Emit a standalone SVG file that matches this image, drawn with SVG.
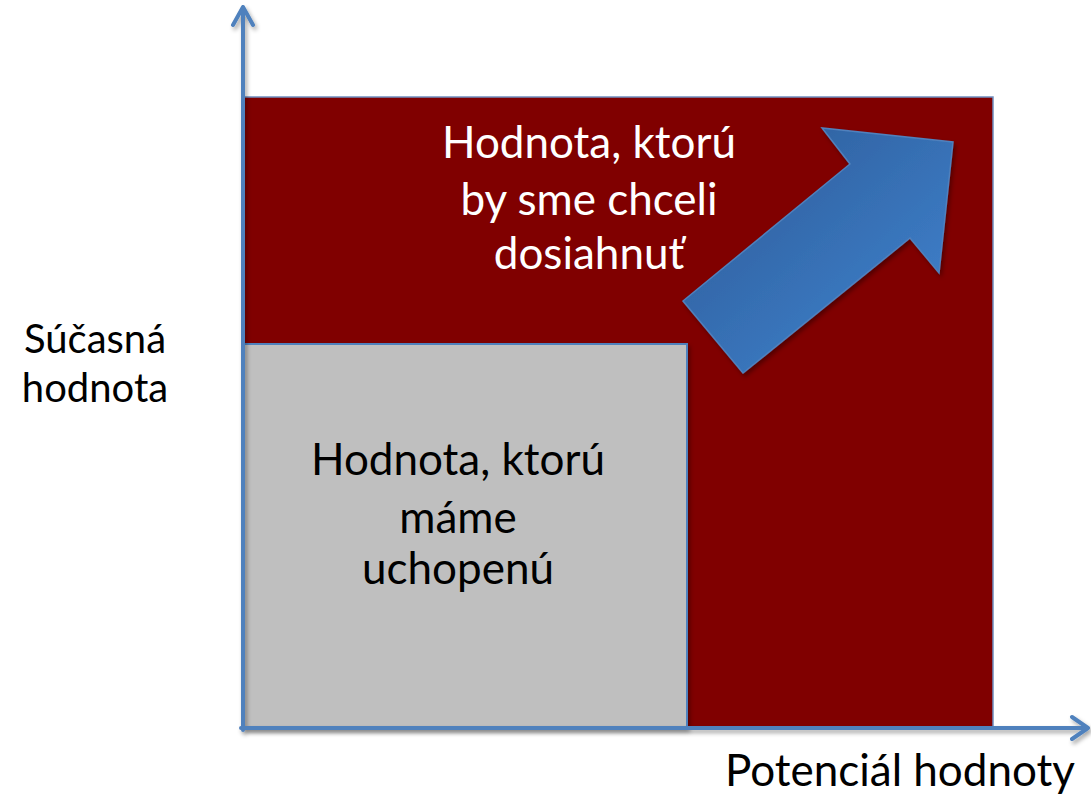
<svg xmlns="http://www.w3.org/2000/svg" width="1091" height="810" viewBox="0 0 1091 810">
<style>
.t{font-family:Lato,"Open Sans","Liberation Sans",sans-serif;font-size:44px;text-anchor:middle}
.s{font-size:40px}
.dark{fill:#000}
.light{fill:#fff}
.axis{stroke:#4F81BD;stroke-width:4;fill:none;stroke-linecap:round;stroke-linejoin:round}
</style>
<defs>
<filter id="sh" x="-10%" y="-10%" width="120%" height="120%">
<feDropShadow dx="2" dy="3" stdDeviation="2" flood-color="#000" flood-opacity="0.35"/>
</filter>
<linearGradient id="ag" x1="0" y1="0" x2="1" y2="1">
<stop offset="0" stop-color="#2C5A96"/>
<stop offset="1" stop-color="#4185D2"/>
</linearGradient>
</defs>
<rect width="1091" height="810" fill="#fff"/>
<g id="potential">
<rect x="244" y="97" width="749" height="631" fill="#800000" stroke="#6F8FC0" stroke-width="1.5"/>
<text class="t light" x="589" y="158">Hodnota, ktorú</text>
<text class="t light" x="589" y="215">by sme chceli</text>
<text class="t light" x="589" y="269">dosiahnuť</text>
</g>
<g id="current">
<rect x="244" y="344" width="443" height="384" fill="#BFBFBF" stroke="#4F81BD" stroke-width="2" filter="url(#sh)"/>
<text class="t dark" x="458" y="475">Hodnota, ktorú</text>
<text class="t dark" x="458" y="533">máme</text>
<text class="t dark" x="458" y="584">uchopenú</text>
</g>
<g id="growth-arrow">
<polygon points="683,301 850,164 822,128 953,142 939,273 910,238 743,373" fill="url(#ag)" stroke="#4F81BD" stroke-width="1.5" stroke-linejoin="miter" filter="url(#sh)"/>
</g>
<g id="connectors" filter="url(#sh)">
<path class="axis" d="M243,730 V7 M233,25 L243,7 L253,25"/>
<path class="axis" d="M241,728 H1088 M1072,717 L1088,728 L1072,739"/>
</g>
<g id="labels">
<text class="t s dark" x="95" y="353">Súčasná</text>
<text class="t s dark" x="95" y="402">hodnota</text>
<text class="t dark" x="900" y="786">Potenciál hodnoty</text>
</g>
</svg>
